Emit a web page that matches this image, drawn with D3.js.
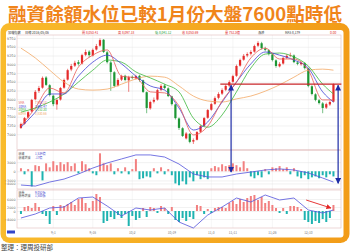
<!DOCTYPE html>
<html>
<head>
<meta charset="utf-8">
<script src="https://cdn.jsdelivr.net/npm/d3@7"></script>
<style>
body { margin: 0; background: #fff; }
svg { display: block; font-family: "Noto Sans CJK TC", "Noto Sans", sans-serif; }
</style>
</head>
<body>
<script>
// ---- data ----
var title = "融資餘額水位已較1月份大盤7600點時低";
var source = "整理：理周投研部";

// daily candles (index points)
var opens = [7180,7300,7480,7650,8000,8240,8330,8620,8400,8100, 7850,7990,8330,8560,8850,8960,9060,9020,9270,9360, 9250,9420,9530,9700,9340,9050,8770,8390,8560,8670, 8540,8640,8600,8670,8540,8200,7740,7930,7990,8270, 8390,8310,8080,7850,7450,7170,6880,7010,6790,6840, 7070,7240,7470,7700,7870,8040,8160,8270,8390,8500, 8670,8960,9130,9250,9300,9360,9530,9600,9450,9400, 9280,9110,8940,9020,9190,9250,9250,9050,9000,9030, 8880,8370,8140,7970,7880,7760,7850,7930];
var highs = [7330,7490,7660,8010,8260,8380,8650,8660,8430,8130, 8020,8350,8590,8870,9010,9100,9120,9300,9420,9400, 9450,9580,9740,9720,9380,9090,8800,8600,8700,8700, 8670,8680,8700,8700,8560,8220,7960,8050,8300,8430, 8440,8340,8100,7870,7480,7200,7060,7030,6880,7090, 7270,7490,7720,7900,8080,8200,8310,8420,8540,8700, 8990,9160,9290,9340,9400,9560,9660,9640,9500,9430, 9310,9140,9060,9220,9290,9330,9280,9100,9080,9060, 8900,8400,8170,8010,7920,7900,7960,8450];
var lows = [7150,7270,7450,7620,7970,8180,8300,8380,8080,7800, 7700,7960,8300,8530,8800,8920,8960,8990,9230,9200, 9220,9390,9500,9320,9020,8240,8340,8360,8520,8510, 8210,8570,8560,8500,8180,7600,7700,7880,7960,8230, 8280,8060,7820,7420,7120,6920,6850,6740,6720,6820, 7040,7210,7440,7670,7840,8000,8120,8230,8350,8470, 8640,8930,9100,9200,9250,9330,9490,9420,9370,9250, 9080,8900,8910,8990,9150,9200,9030,8970,8960,8850, 8340,8110,7940,7850,7600,7720,7810,7910];
var closes = [7290,7460,7630,7980,8210,8320,8610,8410,8120,7860, 7980,8320,8550,8830,8950,9040,9010,9260,9350,9260, 9410,9520,9690,9350,9060,8780,8380,8550,8660,8550, 8630,8610,8660,8550,8210,7750,7920,7980,8260,8380, 8320,8090,7860,7460,7180,6950,7020,6780,6830,7060, 7230,7460,7690,7860,8030,8150,8260,8380,8490,8660, 8950,9120,9240,9290,9350,9520,9610,9460,9410,9290, 9120,8950,9010,9180,9240,9260,9060,9010,9040,8890, 8380,8150,7980,7890,7750,7860,7920,8430];

// moving averages, sampled at these candle indices
var maIdx = [0,4,8,12,16,20,24,28,32,36,40,44,48,52,56,60,64,68,72,76,80,84,87];
var ma5  = [7230,7750,8320,8180,8920,9260,9410,8660,8610,8210,8180,7810,6980,7230,7950,8490,9180,9460,9150,9150,8830,7980,7980];
var ma10 = [7200,7630,8150,8150,8660,9060,9260,9010,8660,8380,8260,7750,7120,7350,7920,8490,9010,9350,9260,9120,8890,8210,7920];
var ma20 = [7630,7750,7920,8150,8490,8830,9120,9060,8780,8610,8430,8210,7460,7200,7550,8210,8890,9290,9320,9210,8950,8430,8150];
var ma60 = [9460,9180,8830,8490,8290,8260,8290,8430,8580,8660,8630,8380,8090,7950,7920,8010,8090,8230,8410,8630,8830,8860,8830];

// margin financing: daily change (bars) and balance (line, same sample indices)
var finChg = [10,-10,7,-50,20,17,-30,26,13,33, 20,30,23,30,17,26,-7,33,23,10, -7,-13,59,26,20,26,-10,10,-7,13, -10,7,40,-26,-23,-17,-20,10,-7,13, -10,7,-13,-40,-46,-33,-43,-20,-33,-13, -26,-20,-26,10,17,13,23,17,20,26, 20,13,33,10,-17,-23,-13,-20,7,-10, 13,10,17,7,13,-10,10,-17,-23,-13, -26,-20,-17,-23,-13,-20,-10,-17];
var finBal = [1517,1511,1534,1551,1580,1614,1643,1666,1689,1689,1677,1637,1580,1563,1563,1580,1591,1603,1609,1603,1586,1557,1534];

// short selling: daily change (bars) and short/margin ratio (line)
var shortChg = [-1500,2000,2500,1500,4000,2000,-1500,-2500,-6500,2500, -2000,3000,2500,3500,4500,3000,6000,6500,4000,1500, 5000,8500,7000,-6000,-5000,-3000,-4000,-2000,-3500,-1500, -7500,-2500,-4500,-3500,1500,-3000,2000,1500,-1000,2500, 1500,-1500,2000,-4500,-5500,-3500,-5000,-3000,-4000,3000, 2500,-1500,1000,-1000,1500,2000,2000,1500,4000,5000, 3500,6000,4500,6500,7500,8000,5500,7000,4000,5000, 3000,1500,-1000,1500,-1500,2500,2500,2000,1000,-4500, -5500,-6500,-5000,-6000,-4000,-5500,-3500,3000];
var shortRatio = [5,7,10,10.5,15,15.5,11,6,10,9,10,3,0,6.5,10.5,15,13,16.5,14,15,9,7.5,9];

// tick labels
var priceTicks = [9750,9500,9250,9000,8750,8500,8250,8000,7750,7500,7250,7000];
var finTicks = [30,0,-30,-40];
var shortTicks = [6000,2000,0,-4000];
var dateIdx = [9,20,31,42,53,59,70,80];
var dateLabels = ["9/1","9/16","10/2","10/19","11/3","11/11","11/26","12/10"];

// header / legends
var headTexts = ["加權指數","日線 2016/05/06","開 8,053.41","高 8,097.18","低 8,041.12","收 8,053.69","量 752.3億","漲跌","MA5 8,179","0.00"];
var maNames = ["5MA","10MA","20MA","60MA"];
var maValues = ["7,980.12","7,921.47","8,152.30","8,830.66"];

// marks drawn on top
var lineLevel = 8430;          // red horizontal reference level
var arrowIdx = [58.5, 88.3];
var arrowBal = [1591, 1527];
var trendFrom = [79.4, 14], trendTo = [86.3, 10];

// ---- layout ----
var W = 350, H = 252;
var left = 17, right = 341;

var svg = d3.select("body").append("svg")
    .attr("width", W)
    .attr("height", H);

var defs = svg.append("defs");
var grad = defs.append("linearGradient").attr("id", "frameGrad").attr("x1", 0).attr("x2", 1);
grad.append("stop").attr("offset", "0%").attr("stop-color", "#f9bb2c");
grad.append("stop").attr("offset", "100%").attr("stop-color", "#f29c18");

function addMarker(id, color, size) {
  defs.append("marker")
      .attr("id", id)
      .attr("viewBox", "0 0 10 10")
      .attr("refX", 9).attr("refY", 5)
      .attr("markerUnits", "userSpaceOnUse")
      .attr("markerWidth", size).attr("markerHeight", size)
      .attr("orient", "auto-start-reverse")
    .append("path")
      .attr("d", "M0,0 L10,5 L0,10 z")
      .attr("fill", color);
}
addMarker("blueHead", "#1d2ba6", 6);
addMarker("redHead", "#e32222", 5);

// title
svg.append("text")
    .attr("x", 8).attr("y", 21)
    .attr("font-size", 18.5).attr("font-weight", 700)
    .attr("fill", "#f0841a")
    .attr("textLength", 334).attr("lengthAdjust", "spacingAndGlyphs")
    .text(title);

// orange frame
svg.append("rect").attr("x", 0.5).attr("y", 23).attr("width", 349).attr("height", 220)
    .attr("rx", 9).attr("fill", "url(#frameGrad)");
svg.append("rect").attr("x", 6).attr("y", 30).attr("width", 337.5).attr("height", 207.5)
    .attr("rx", 3).attr("fill", "#fff");

// source line
svg.append("text").attr("x", 1).attr("y", 250)
    .attr("font-size", 6.5).attr("fill", "#444").text(source);

// scales
var x = d3.scaleLinear().domain([-1.1, 89.1]).range([left, right]);
var yP = d3.scaleLinear().domain([7000, 9750]).range([134.2, 38]);
var yFin = d3.scaleLinear().domain([-55, 60]).range([188, 153]);
var yBal = d3.scaleLinear().domain([1500, 1700]).range([188, 153]);
var yShort = d3.scaleLinear().domain([-8000, 8500]).range([227, 194]);
var yRatio = d3.scaleLinear().domain([0, 17]).range([228, 194]);

var panels = [[35, 149.5], [150.5, 189], [190, 228]];

// vertical grid at date ticks
svg.append("g").selectAll("line").data(dateIdx).enter().append("line")
    .attr("x1", d => x(d)).attr("x2", d => x(d))
    .attr("y1", 35).attr("y2", 228)
    .attr("stroke", "#ececec").attr("stroke-width", 0.5);

// horizontal grids + labels via axes
function leftAxis(scale, ticks, fmt) {
  var g = svg.append("g").attr("transform", "translate(" + left + ",0)")
      .call(d3.axisLeft(scale).tickValues(ticks).tickSize(-(right - left)).tickFormat(fmt));
  g.select(".domain").remove();
  g.selectAll(".tick line").attr("stroke", "#e4e4e4").attr("stroke-width", 0.5);
  g.selectAll(".tick text").attr("x", -1.5).attr("font-size", 3.3).attr("fill", "#666")
      .attr("font-family", "DejaVu Sans, sans-serif");
  return g;
}
leftAxis(yP, priceTicks, d3.format("d"));
leftAxis(yFin, finTicks, d => d3.format("d")(d * 100));
leftAxis(yShort, shortTicks, d3.format("d"));

// panel borders
svg.append("g").selectAll("rect").data(panels).enter().append("rect")
    .attr("x", left).attr("y", d => d[0])
    .attr("width", right - left).attr("height", d => d[1] - d[0])
    .attr("fill", "none").attr("stroke", "#e2bcbc").attr("stroke-width", 0.6);

// header row
var headX = [8, 25, 82, 118, 155, 182, 225, 258, 285, 330];
var headCol = ["#333", "#333", "#d22", "#d22", "#1a9a35", "#d22", "#d22", "#333", "#333", "#d22"];
svg.append("g").selectAll("text").data(headTexts).enter().append("text")
    .attr("x", (d, i) => headX[i]).attr("y", 34)
    .attr("font-size", 3.2).attr("fill", (d, i) => headCol[i])
    .text(d => d);

// candles
var up = "#e42a2a", down = "#1c9634";
var candles = svg.append("g");
candles.selectAll("line").data(closes).enter().append("line")
    .attr("x1", (d, i) => x(i)).attr("x2", (d, i) => x(i))
    .attr("y1", (d, i) => yP(highs[i])).attr("y2", (d, i) => yP(lows[i]))
    .attr("stroke", (d, i) => d >= opens[i] ? up : down).attr("stroke-width", 0.6);
candles.selectAll("rect").data(closes).enter().append("rect")
    .attr("x", (d, i) => x(i) - 1.1).attr("width", 2.2)
    .attr("y", (d, i) => yP(Math.max(d, opens[i])))
    .attr("height", (d, i) => Math.max(0.6, Math.abs(yP(d) - yP(opens[i]))))
    .attr("fill", (d, i) => d >= opens[i] ? up : down);

// moving averages
var maLine = d3.line().x((d, k) => x(maIdx[k])).y(d => yP(d)).curve(d3.curveMonotoneX);
var maSeries = [ma60, ma20, ma10, ma5];
var maCol = ["#f2a865", "#3cb83c", "#4242d6", "#e85a55"];
svg.append("g").selectAll("path").data(maSeries).enter().append("path")
    .attr("d", maLine).attr("fill", "none")
    .attr("stroke", (d, i) => maCol[i]).attr("stroke-width", 0.8);

// MA legend
var legCol = ["#e85a55", "#4242d6", "#3cb83c", "#f2a865"];
var leg = svg.append("g");
leg.selectAll("text.n").data(maNames).enter().append("text")
    .attr("x", 18.5).attr("y", (d, i) => 104 + i * 3.5)
    .attr("font-size", 3).attr("fill", (d, i) => legCol[i]).text(d => d);
leg.selectAll("text.v").data(maValues).enter().append("text")
    .attr("x", 35).attr("y", (d, i) => 104 + i * 3.5)
    .attr("font-size", 3).attr("fill", (d, i) => legCol[i]).text(d => d);

// margin financing panel
var barUp = "#f28080", barDown = "#1fb3b0";
svg.append("g").selectAll("rect").data(finChg).enter().append("rect")
    .attr("x", (d, i) => x(i) - 1).attr("width", 2)
    .attr("y", d => yFin(Math.max(0, d)))
    .attr("height", d => Math.abs(yFin(d) - yFin(0)))
    .attr("fill", d => d >= 0 ? barUp : barDown);
svg.append("path").datum(finBal)
    .attr("d", d3.line().x((d, k) => x(maIdx[k])).y(d => yBal(d)))
    .attr("fill", "none").attr("stroke", "#5353dc").attr("stroke-width", 0.8);

// short selling panel
svg.append("g").selectAll("rect").data(shortChg).enter().append("rect")
    .attr("x", (d, i) => x(i) - 1).attr("width", 2)
    .attr("y", d => yShort(Math.max(0, d)))
    .attr("height", d => Math.abs(yShort(d) - yShort(0)))
    .attr("fill", d => d >= 0 ? barUp : barDown);
svg.append("path").datum(shortRatio)
    .attr("d", d3.line().x((d, k) => x(maIdx[k])).y(d => yRatio(d)))
    .attr("fill", "none").attr("stroke", "#5353dc").attr("stroke-width", 0.8);

// panel headers
var subHead = [
  {y: 155, a: "融資", b: "1,534億"},
  {y: 158.5, a: "融資增減", b: "-17億"},
  {y: 193.5, a: "融券", b: "9,052張"},
  {y: 197, a: "融券增減", b: "1,500張"}
];
var sh = svg.append("g");
sh.selectAll("text.a").data(subHead).enter().append("text")
    .attr("x", 18.5).attr("y", d => d.y).attr("font-size", 3).attr("fill", "#555").text(d => d.a);
sh.selectAll("text.b").data(subHead).enter().append("text")
    .attr("x", 35).attr("y", d => d.y).attr("font-size", 3).attr("fill", "#4444cc").text(d => d.b);

// date labels
svg.append("g").selectAll("text").data(dateLabels).enter().append("text")
    .attr("x", (d, i) => x(dateIdx[i])).attr("y", 233.5)
    .attr("text-anchor", "middle").attr("font-size", 3.2).attr("fill", "#777")
    .text(d => d);
svg.append("rect").attr("x", 7).attr("y", 230.5).attr("width", 8).attr("height", 3)
    .attr("fill", "#3346c8");

// red reference level
svg.append("line")
    .attr("x1", x(55.5)).attr("x2", x(89.2))
    .attr("y1", yP(lineLevel)).attr("y2", yP(lineLevel))
    .attr("stroke", "#c8262a").attr("stroke-width", 1.3);

// blue double arrows from price level down to financing balance
svg.append("g").selectAll("line").data(arrowIdx).enter().append("line")
    .attr("x1", d => x(d)).attr("x2", d => x(d))
    .attr("y1", yP(lineLevel) + 1).attr("y2", (d, i) => yBal(arrowBal[i]))
    .attr("stroke", "#1d2ba6").attr("stroke-width", 1.2)
    .attr("marker-start", "url(#blueHead)").attr("marker-end", "url(#blueHead)");

// red trend arrow in short panel
svg.append("line")
    .attr("x1", x(trendFrom[0])).attr("y1", yRatio(trendFrom[1]))
    .attr("x2", x(trendTo[0])).attr("y2", yRatio(trendTo[1]))
    .attr("stroke", "#e32222").attr("stroke-width", 0.9)
    .attr("marker-end", "url(#redHead)");
</script>
</body>
</html>
